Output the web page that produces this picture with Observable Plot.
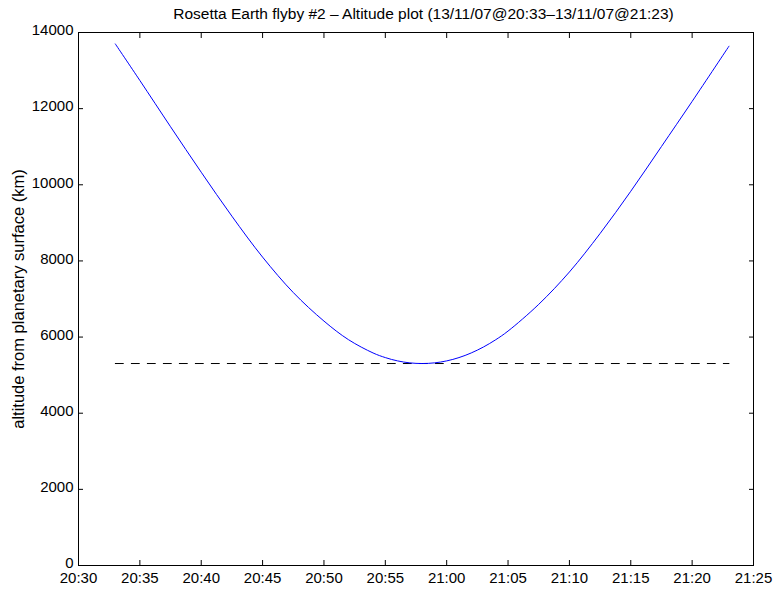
<!DOCTYPE html>
<html>
<head>
<meta charset="utf-8">
<script src="https://cdn.jsdelivr.net/npm/d3@7"></script>
<script src="https://cdn.jsdelivr.net/npm/@observablehq/plot@0.6"></script>
<style>
  body { margin: 0; background: #fff; }
  #wrap { position: relative; width: 773px; height: 589px; }
  #title {
    position: absolute; left: 0; top: 0;
    width: 773px; height: 28px; line-height: 28px; box-sizing: border-box;
    padding-left: 74px; text-align: center;
    font-family: "Liberation Sans", Arial, Helvetica, sans-serif; font-size: 15.5px; color: #000;
    white-space: nowrap;
  }
</style>
</head>
<body>
<div id="wrap">
<div id="chart"></div>
<div id="title">Rosetta Earth flyby #2 – Altitude plot (13/11/07@20:33–13/11/07@21:23)</div>
</div>
<script>
// Spacecraft altitude above the Earth's surface during the flyby (UTC, 13 Nov 2007)
const times = ["20:33", "20:35", "20:37:30", "20:40", "20:42:30", "20:45", "20:47:30", "20:50",
  "20:52", "20:54", "20:55", "20:56", "20:57", "20:58", "20:59", "21:00", "21:01", "21:02",
  "21:03", "21:04", "21:05", "21:07:30", "21:10", "21:12:30", "21:15", "21:17:30", "21:20", "21:23"];
const altitudeKm = [13700, 12740, 11525, 10330, 9175, 8100, 7170, 6420,
  5931, 5583, 5461, 5374, 5322, 5305, 5322, 5374, 5461, 5583,
  5740, 5931, 6158, 6860, 7710, 8720, 9830, 11005, 12190, 13640];

// Closest-approach altitude, drawn as a dashed reference line
const minAltitudeKm = 5305;
const refTimes = ["20:33", "21:23"];

const xTickLabels = ["20:30", "20:35", "20:40", "20:45", "20:50", "20:55", "21:00",
  "21:05", "21:10", "21:15", "21:20", "21:25"];
const yTicks = [0, 2000, 4000, 6000, 8000, 10000, 12000, 14000];
const yLabel = "altitude from planetary surface (km)";

const toDate = (hms) => new Date(`2007-11-13T${hms.length === 5 ? hms + ":00" : hms}Z`);

const trajectory = times.map((t, i) => ({time: toDate(t), alt: altitudeKm[i]}));
const reference = refTimes.map((t) => ({time: toDate(t), alt: minAltitudeKm}));
const xTicks = xTickLabels.map(toDate);
const fmt = d3.utcFormat("%H:%M");

const chart = Plot.plot({
  width: 773,
  height: 589,
  marginTop: 32,
  marginBottom: 24,
  marginLeft: 78,
  marginRight: 20,
  style: {fontFamily: "'Liberation Sans', Arial, Helvetica, sans-serif", fontSize: "15px", color: "#000", background: "#fff"},
  x: {type: "utc", domain: [xTicks[0], xTicks[xTicks.length - 1]]},
  y: {domain: [0, 14000]},
  marks: [
    Plot.frame({stroke: "#000", strokeWidth: 1}),
    // tick labels
    Plot.axisX(xTicks, {anchor: "bottom", tickSize: 0, tickPadding: 7, tickFormat: fmt, label: null}),
    Plot.axisY(yTicks, {anchor: "left", tickSize: 0, tickPadding: 5, dy: -2, tickFormat: (d) => `${d}`, label: null}),
    // inward tick marks on all four sides
    Plot.axisX(xTicks, {anchor: "bottom", tickSize: -5, fill: "none", label: null}),
    Plot.axisX(xTicks, {anchor: "top", tickSize: -5, fill: "none", label: null}),
    Plot.axisY(yTicks, {anchor: "left", tickSize: -5, fill: "none", label: null}),
    Plot.axisY(yTicks, {anchor: "right", tickSize: -5, fill: "none", label: null}),
    Plot.text([yLabel], {frameAnchor: "left", textAnchor: "middle", rotate: -90, dx: -60, fontSize: 16.5, text: (d) => d, fill: "#000"}),
    Plot.line(reference, {x: "time", y: "alt", stroke: "#000", strokeWidth: 1, strokeDasharray: "8,8"}),
    Plot.line(trajectory, {x: "time", y: "alt", stroke: "#0000ff", strokeWidth: 1, curve: "catmull-rom"})
  ]
});
document.getElementById("chart").append(chart);
</script>
</body>
</html>
